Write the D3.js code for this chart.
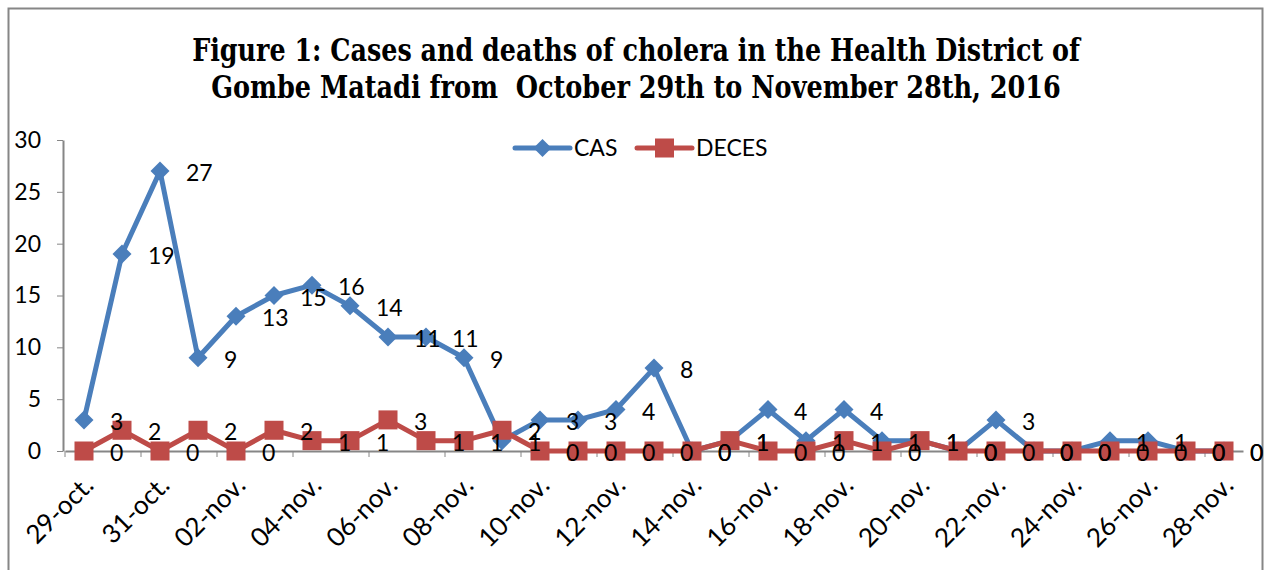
<!DOCTYPE html>
<meta charset="utf-8">
<style>
    body { margin: 0; background: #fff; }
    .axis path, .axis line { stroke: #868686; }
    .axis text { font-family: Lato, "Open Sans", sans-serif; font-size: 23px; fill: #000; }
    .lbl { font-family: Lato, "Open Sans", sans-serif; font-size: 23px; fill: #000; }
    .title { font-family: "DejaVu Serif", serif; font-weight: bold; font-size: 31px; fill: #000; }
</style>
<svg width="1265" height="570"></svg>
<script src="https://d3js.org/d3.v7.min.js"></script>
<script>

    var categories = ["29-oct.", "30-oct.", "31-oct.", "01-nov.", "02-nov.", "03-nov.", "04-nov.", "05-nov.",
        "06-nov.", "07-nov.", "08-nov.", "09-nov.", "10-nov.", "11-nov.", "12-nov.", "13-nov.", "14-nov.",
        "15-nov.", "16-nov.", "17-nov.", "18-nov.", "19-nov.", "20-nov.", "21-nov.", "22-nov.", "23-nov.",
        "24-nov.", "25-nov.", "26-nov.", "27-nov.", "28-nov."];
    var cas = [3, 19, 27, 9, 13, 15, 16, 14, 11, 11, 9, 1, 3, 3, 4, 8, 0, 1, 4, 1, 4, 1, 1, 0, 3, 0, 0, 1, 1, 0, 0];
    var deces = [0, 2, 0, 2, 0, 2, 1, 1, 3, 1, 1, 2, 0, 0, 0, 0, 0, 1, 0, 0, 1, 0, 1, 0, 0, 0, 0, 0, 0, 0, 0];
    var yTicks = [0, 5, 10, 15, 20, 25, 30];
    var seriesNames = ["CAS", "DECES"];
    var titleLines = ["Figure 1: Cases and deaths of cholera in the Health District of",
        "Gombe Matadi from  October 29th to November 28th, 2016"];

    var svg = d3.select("svg"),
        blue = "#4A7EBB", red = "#BE4B48";

    svg.append("rect").attr("width", 1265).attr("height", 570).attr("fill", "#fff");
    // chart frame (bottom edge runs off the picture)
    svg.append("rect")
        .attr("x", 8.5).attr("y", 8.5).attr("width", 1254).attr("height", 620)
        .attr("fill", "none").attr("stroke", "#868686").attr("stroke-width", 2);

    // title, squeezed horizontally to the reference width
    var titleWidths = [888, 850];
    svg.selectAll(".title")
        .data(titleLines)
        .enter().append("text")
        .attr("class", "title")
        .attr("text-anchor", "middle")
        .style("white-space", "pre")
        .text(function(d) { return d; })
        .attr("transform", function(d, i) {
            var sx = titleWidths[i] / this.getComputedTextLength();
            return "translate(636," + (61 + i * 37) + ") scale(" + sx + ",1)";
        });

    var x = d3.scaleBand().domain(categories).range([65, 1243]).padding(0),
        y = d3.scaleLinear().domain([0, 30]).range([451, 140]);
    var bw = x.bandwidth();
    function cx(i) { return x(categories[i]) + bw / 2; }

    // y axis
    var yAxis = svg.append("g")
        .attr("class", "axis")
        .attr("transform", "translate(63,0)")
        .call(d3.axisLeft(y).tickValues(yTicks).tickSize(6).tickPadding(16).tickSizeOuter(0));
    yAxis.select(".domain").attr("stroke-width", 2);

    // x axis: labels every second day, ticks on band edges
    var xAxis = svg.append("g")
        .attr("class", "axis")
        .attr("transform", "translate(0," + y(0) + ")")
        .call(d3.axisBottom(x)
            .tickValues(categories.filter(function(d, i) { return i % 2 === 0; }))
            .tickSize(6).tickSizeOuter(0));
    xAxis.select(".domain").attr("stroke-width", 2);
    xAxis.selectAll(".tick line").attr("transform", "translate(" + (-bw / 2) + ",0)");
    xAxis.selectAll(".tick text")
        .style("font-size", "26px")
        .attr("text-anchor", "end")
        .attr("dy", null)
        .attr("y", 0)
        .attr("transform", "translate(11,36) rotate(-45)");

    var line = d3.line()
        .x(function(d, i) { return cx(i); })
        .y(function(d) { return y(d); });

    // CAS
    svg.append("path").datum(cas)
        .attr("fill", "none").attr("stroke", blue).attr("stroke-width", 5)
        .attr("stroke-linejoin", "round").attr("d", line);
    svg.selectAll(".dia")
        .data(cas)
        .enter().append("path")
        .attr("class", "dia")
        .attr("fill", blue)
        .attr("d", function(d, i) {
            var px = cx(i), py = y(d), r = 9.5;
            return "M" + px + "," + (py - r) + "L" + (px + r) + "," + py + "L" + px + "," + (py + r) + "L" + (px - r) + "," + py + "Z";
        });

    // DECES
    svg.append("path").datum(deces)
        .attr("fill", "none").attr("stroke", red).attr("stroke-width", 5)
        .attr("stroke-linejoin", "round").attr("d", line);
    svg.selectAll(".sq")
        .data(deces)
        .enter().append("rect")
        .attr("class", "sq")
        .attr("fill", red)
        .attr("x", function(d, i) { return cx(i) - 9.5; })
        .attr("y", function(d) { return y(d) - 9.5; })
        .attr("width", 19).attr("height", 19);

    // data labels, right of each point
    [cas, deces].forEach(function(vals) {
        svg.append("g").selectAll("text")
            .data(vals)
            .enter().append("text")
            .attr("class", "lbl")
            .attr("x", function(d, i) { return cx(i) + 26; })
            .attr("y", function(d) { return y(d) + 10; })
            .text(function(d) { return d; });
    });

    // legend
    var legend = svg.append("g").attr("transform", "translate(515,148)");
    [0, 1].forEach(function(k) {
        var g = legend.append("g").attr("transform", "translate(" + (k * 122) + ",0)");
        var c = k === 0 ? blue : red;
        g.append("line").attr("x1", 0).attr("x2", 55).attr("stroke", c)
            .attr("stroke-width", 5).attr("stroke-linecap", "round");
        if (k === 0) {
            g.append("path").attr("fill", c).attr("d", "M27.5,-9L36.5,0L27.5,9L18.5,0Z");
        } else {
            g.append("rect").attr("fill", c).attr("x", 18).attr("y", -9.5).attr("width", 19).attr("height", 19);
        }
        g.append("text").attr("class", "lbl").attr("x", 59).attr("y", 8).text(seriesNames[k]);
    });
</script>
